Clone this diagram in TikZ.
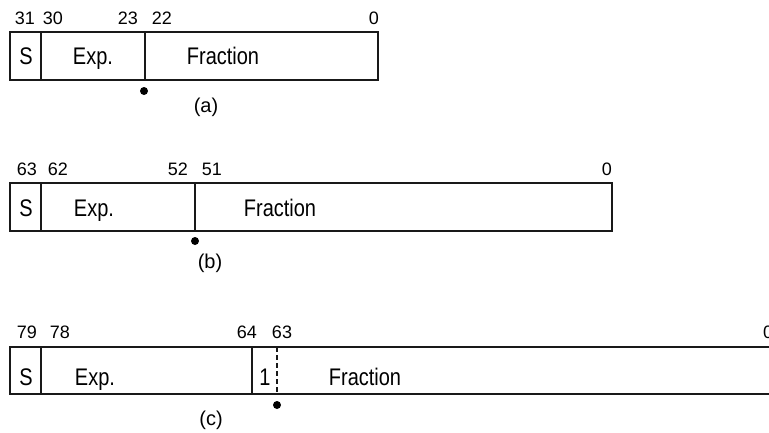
\documentclass[tikz,border=0pt]{standalone}
\usepackage{fontspec}
\setmainfont{Liberation Sans}
\usetikzlibrary{positioning}
\newcommand{\alto}[1]{\scalebox{1}[1.2]{#1}}

\begin{document}
\begin{tikzpicture}[x=1pt, y=-1pt,
	campo/.style={font=\fontsize{20}{24}\selectfont, inner sep=0pt, anchor=base},
	bit/.style={font=\fontsize{18}{21}\selectfont, inner sep=0pt, anchor=base},
	marco/.style={line width=1.8pt, draw=black!90},
	divisor/.style={line width=1.4pt, draw=black!90},
	punto/.style={circle, fill=black, inner sep=0pt, minimum size=8pt}]
	\useasboundingbox (0,0) rectangle (769,432);
	\clip (0,0) rectangle (769,432);
	% (a) simple
	\draw[marco] (10,32) rectangle (378,80);
	\draw[divisor] (41,32) -- (41,80);
	\draw[divisor] (145,32) -- (145,80);
	\node[bit] (a31) at (25,24.5) {31};
	\node[bit] (a30) at (53,24.5) {30};
	\node[bit] (a23) at (128,24.5) {23};
	\node[bit] (a22) at (162,24.5) {22};
	\node[bit] (a0) at (374,24.5) {0};
	\node[campo] (as) at (26,64.5) {\alto{S}};
	\node[campo] (aexp) at (93,64.5) {\alto{Exp.}};
	\node[campo] (afrac) at (223,64.5) {\alto{Fraction}};
	\node[punto] (ap) at (144,91) {};
	\node[campo] (alab) at (206,112) {(a)};
	% (b) doble
	\draw[marco] (10,183) rectangle (612,231);
	\draw[divisor] (41,183) -- (41,231);
	\draw[divisor] (195,183) -- (195,231);
	\node[bit] (b63) at (27,175.5) {63};
	\node[bit] (b62) at (58,175.5) {62};
	\node[bit] (b52) at (178,175.5) {52};
	\node[bit] (b51) at (212,175.5) {51};
	\node[bit] (b0) at (607,175.5) {0};
	\node[campo] (bs) at (26,216.5) {\alto{S}};
	\node[campo] (bexp) at (94,216.5) {\alto{Exp.}};
	\node[campo] (bfrac) at (280,216.5) {\alto{Fraction}};
	\node[punto] (bp) at (195,241) {};
	\node[campo] (blab) at (210,268) {(b)};
	% (c) extendido
	\draw[marco] (10,347) rectangle (773,394);
	\draw[divisor] (41,347) -- (41,394);
	\draw[divisor] (252,347) -- (252,394);
	\draw[divisor, dash pattern=on 5pt off 3pt] (277,347) -- (277,394);
	\node[bit] (c79) at (27,338.5) {79};
	\node[bit] (c78) at (60,338.5) {78};
	\node[bit] (c64) at (247,338.5) {64};
	\node[bit] (c63) at (282,338.5) {63};
	\node[bit] (c0) at (768,338.5) {0};
	\node[campo] (cs) at (26,385) {\alto{S}};
	\node[campo] (cexp) at (95,385) {\alto{Exp.}};
	\node[campo] (cuno) at (265,385) {\alto{1}};
	\node[campo] (cfrac) at (365,385) {\alto{Fraction}};
	\node[punto] (cp) at (277,405) {};
	\node[campo] (clab) at (211,425) {(c)};
\end{tikzpicture}
\end{document}
